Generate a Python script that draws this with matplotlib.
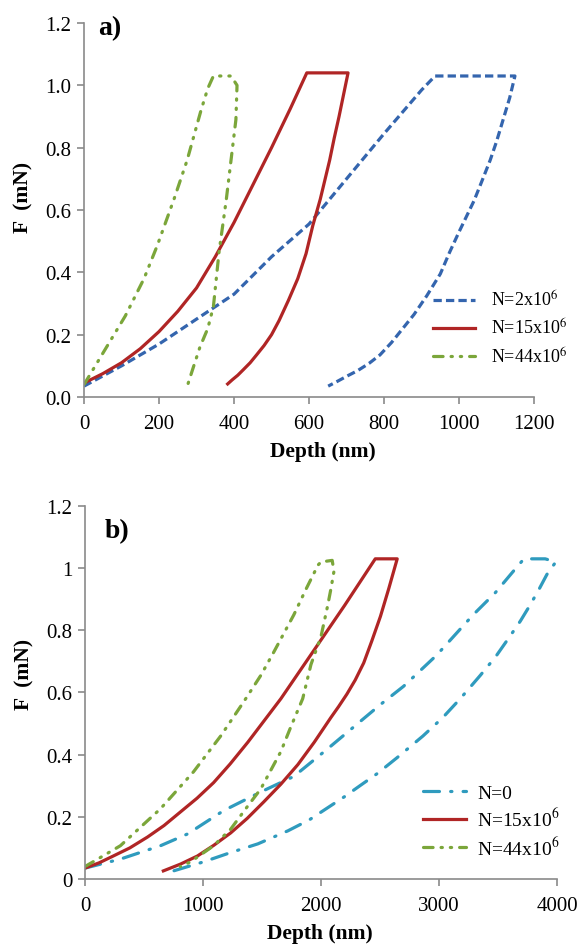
import matplotlib
matplotlib.use("Agg")
import matplotlib.pyplot as plt

plt.rcParams['font.family'] = ['Liberation Serif', 'DejaVu Serif']
plt.rcParams['mathtext.fontset'] = 'stix'

# ---- panel a) data (depth nm, force mN), full load/hold/unload loops
depth_a_2 = [0, 100, 200, 300, 400, 500, 600, 700, 800, 900, 936,
             1149, 1135, 1120, 1100, 1083, 1060, 1040, 1020, 1000, 975, 950, 914,
             880, 850, 820, 789, 760, 730, 701, 675, 651]
force_a_2 = [0.035, 0.10, 0.17, 0.25, 0.33, 0.45, 0.555, 0.70, 0.845, 0.985, 1.03,
             1.03, 0.96, 0.90, 0.82, 0.76, 0.69, 0.63, 0.58, 0.53, 0.465, 0.395, 0.325,
             0.265, 0.22, 0.175, 0.135, 0.108, 0.085, 0.067, 0.05, 0.035]

depth_a_15 = [0, 50, 100, 150, 200, 250, 300, 350, 400, 450, 500, 550, 594,
              704, 692, 680, 667, 655, 642, 630, 610, 592, 570, 545, 520, 500,
              480, 460, 443, 425, 410, 395, 383]
force_a_15 = [0.045, 0.075, 0.11, 0.155, 0.21, 0.275, 0.35, 0.45, 0.56, 0.68, 0.80, 0.925, 1.04,
              1.04, 0.97, 0.90, 0.83, 0.76, 0.695, 0.635, 0.55, 0.46, 0.38, 0.31, 0.245, 0.20,
              0.165, 0.135, 0.11, 0.088, 0.07, 0.055, 0.042]

depth_a_44 = [0, 20, 60, 110, 160, 195, 240, 275, 312, 330, 345,
              392, 408, 405, 392, 379, 360, 345, 330, 309, 290, 274]
force_a_44 = [0.04, 0.08, 0.16, 0.26, 0.38, 0.485, 0.635, 0.76, 0.92, 0.99, 1.03,
              1.03, 1.0, 0.89, 0.76, 0.63, 0.465, 0.29, 0.22, 0.16, 0.09, 0.03]

# ---- panel b) data
depth_b_0 = [0, 300, 640, 870, 1175, 1490, 1770, 2060, 2280, 2500, 2700, 2980, 3290, 3475, 3630,
             3720, 3900, 3990,
             3915, 3845, 3770, 3690, 3600, 3480, 3350, 3180, 3034, 2864, 2644, 2480, 2330,
             2200, 2060, 1900, 1720, 1465, 1234, 1004, 750]
force_b_0 = [0.035, 0.064, 0.107, 0.145, 0.22, 0.28, 0.33, 0.42, 0.49, 0.56, 0.62, 0.72, 0.85, 0.92, 0.99,
             1.03, 1.03, 1.02,
             0.98, 0.93, 0.88, 0.83, 0.78, 0.715, 0.655, 0.58, 0.52, 0.46, 0.39, 0.34, 0.30,
             0.265, 0.23, 0.19, 0.155, 0.113, 0.085, 0.055, 0.026]

depth_b_15 = [0, 120, 240, 380, 530, 670, 810, 950, 1090, 1230, 1380, 1520, 1660, 1930, 2200, 2460,
              2646, 2575, 2504, 2430, 2362, 2290, 2220, 2150, 2085, 1943, 1804, 1660, 1515,
              1375, 1234, 1090, 953, 810, 664]
force_b_15 = [0.035, 0.052, 0.074, 0.10, 0.135, 0.172, 0.216, 0.26, 0.31, 0.37, 0.44, 0.51, 0.58, 0.73, 0.88, 1.03,
              1.03, 0.935, 0.845, 0.765, 0.695, 0.64, 0.595, 0.555, 0.52, 0.44, 0.368, 0.305, 0.248,
              0.195, 0.148, 0.108, 0.074, 0.048, 0.026]

depth_b_44 = [0, 300, 640, 920, 1150, 1345, 1490, 1600, 1770, 1870, 1975, 2000, 2095,
              2110, 2085, 2057, 2000, 1915, 1845, 1745, 1660, 1575, 1490, 1380, 1234, 1090, 894, 808]
force_b_44 = [0.04, 0.107, 0.226, 0.345, 0.46, 0.57, 0.655, 0.73, 0.85, 0.93, 1.01, 1.02, 1.025,
              0.99, 0.935, 0.88, 0.78, 0.69, 0.58, 0.49, 0.41, 0.35, 0.29, 0.235, 0.16, 0.107, 0.055, 0.04]

labels_a = [r'N=2x10$^{6}$', r'N=15x10$^{6}$', r'N=44x10$^{6}$']
labels_b = ['N=0', r'N=15x10$^{6}$', r'N=44x10$^{6}$']
yticks_a = ['0.0', '0.2', '0.4', '0.6', '0.8', '1.0', '1.2']
yticks_b = ['0', '0.2', '0.4', '0.6', '0.8', '1', '1.2']

blue = '#3465AE'
red = '#B02525'
green = '#7BA63A'
cyan = '#2F9BBE'

fig = plt.figure(figsize=(5.77, 9.45), dpi=100)
axa = fig.add_axes([0.1456, 0.5788, 0.780, 0.3958])
axb = fig.add_axes([0.1473, 0.0688, 0.818, 0.3947])

lw = 2.3
axa.plot(depth_a_2, force_a_2, color=blue, lw=lw, dashes=(2.6, 1.3), label=labels_a[0])
axa.plot(depth_a_15, force_a_15, color=red, lw=lw, label=labels_a[1])
axa.plot(depth_a_44, force_a_44, color=green, lw=lw, dashes=(3.0, 2.5, 0.4, 2.5, 0.4, 2.5),
         dash_capstyle='round', label=labels_a[2])

axb.plot(depth_b_0, force_b_0, color=cyan, lw=lw, dashes=(5.0, 3.5, 0.4, 3.5),
         dash_capstyle='round', label=labels_b[0])
axb.plot(depth_b_15, force_b_15, color=red, lw=lw, label=labels_b[1])
axb.plot(depth_b_44, force_b_44, color=green, lw=lw, dashes=(3.0, 2.5, 0.4, 2.5, 0.4, 2.5),
         dash_capstyle='round', label=labels_b[2])

for ax, xmax, xstep, ylabs in [(axa, 1200, 200, yticks_a), (axb, 4000, 1000, yticks_b)]:
    ax.set_xlim(0, xmax)
    ax.set_ylim(0, 1.2)
    ax.set_xticks(range(0, xmax + 1, xstep))
    ax.set_yticks([0, 0.2, 0.4, 0.6, 0.8, 1.0, 1.2])
    ax.set_yticklabels(ylabs)
    for s in ['top', 'right']:
        ax.spines[s].set_visible(False)
    for s in ['left', 'bottom']:
        ax.spines[s].set_color('#8a8a8a')
        ax.spines[s].set_linewidth(1.2)
    ax.tick_params(direction='out', length=5, width=1.2, color='#8a8a8a',
                   labelsize=15)
    ax.tick_params(axis='x', pad=7)
    ax.tick_params(axis='y', pad=4)
    ax.set_xlabel('Depth (nm)', fontsize=15.5, fontweight='bold')
    ax.set_ylabel('F  (mN)', fontsize=15.5, fontweight='bold')

axa.xaxis.set_label_coords(0.53, -0.118)
axb.xaxis.set_label_coords(0.498, -0.119)
axa.yaxis.set_label_coords(-0.112, 0.535)
axb.yaxis.set_label_coords(-0.107, 0.55)

axa.text(0.031, 0.989, 'a)', transform=axa.transAxes, fontsize=20, fontweight='bold',
         va='center', ha='left')
axb.text(0.042, 0.933, 'b)', transform=axb.transAxes, fontsize=20, fontweight='bold',
         va='center', ha='left')

axa.legend(loc='center left', bbox_to_anchor=(0.776, 0.184), frameon=False, fontsize=13,
           handlelength=2.3, handletextpad=0.9, labelspacing=0.45, borderpad=0,
           borderaxespad=0)
axb.legend(loc='center left', bbox_to_anchor=(0.716, 0.155), frameon=False, fontsize=14,
           handlelength=2.2, handletextpad=0.6, labelspacing=0.3, borderpad=0,
           borderaxespad=0)

fig.savefig('out.png', dpi=100)
